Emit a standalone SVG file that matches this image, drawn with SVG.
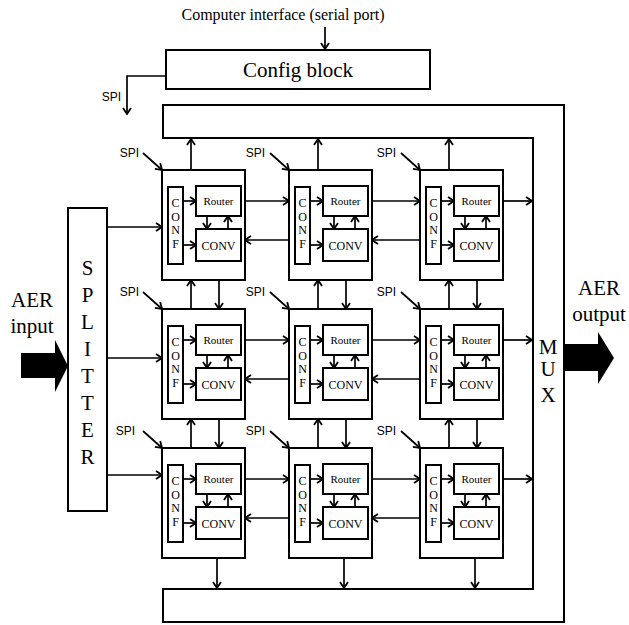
<svg xmlns="http://www.w3.org/2000/svg" width="629" height="625" viewBox="0 0 629 625">
<style>
.box{fill:#fff;stroke:#000;stroke-width:2}
.ln{fill:none;stroke:#000;stroke-width:1.7}
.serif{font-family:"Liberation Serif","Times New Roman",serif;fill:#000}
.sans{font-family:"Liberation Sans",Arial,sans-serif;fill:#000;font-size:12px}
.big{font-size:21px}
.cf{font-size:12px}
.rt{font-size:11px}
.cv{font-size:12px}
</style>
<defs>
<marker id="a" viewBox="0 0 10 10" refX="9" refY="5" markerWidth="10" markerHeight="10" markerUnits="userSpaceOnUse" orient="auto"><path d="M3,1 L9,5 L3,9" fill="none" stroke="#000" stroke-width="1.8"/></marker>
<g id="cell">
<rect class="box" x="0" y="0" width="83" height="110"/>
<rect class="box" x="6" y="17" width="15" height="77"/>
<rect class="box" x="34" y="16" width="45" height="30"/>
<rect class="box" x="34" y="59" width="45" height="32"/>
<line class="ln" x1="21" y1="31" x2="34" y2="31" marker-end="url(#a)"/>
<line class="ln" x1="21" y1="75" x2="34" y2="75" marker-end="url(#a)"/>
<line class="ln" x1="45" y1="46" x2="45" y2="59" marker-end="url(#a)"/>
<line class="ln" x1="66" y1="59" x2="66" y2="46" marker-end="url(#a)"/>
<text class="serif cf" font-family="Liberation Serif, serif" text-anchor="middle" x="13.5"><tspan x="13.5" y="37">C</tspan><tspan x="13.5" y="51">O</tspan><tspan x="13.5" y="64">N</tspan><tspan x="13.5" y="78">F</tspan></text>
<text class="serif rt" font-family="Liberation Serif, serif" text-anchor="middle" x="56.5" y="35">Router</text>
<text class="serif cv" font-family="Liberation Serif, serif" text-anchor="middle" x="56.5" y="79.5">CONV</text>
</g>
</defs>
<rect width="629" height="625" fill="#fff"/>

<g id="computer-interface">
<text class="serif" font-size="16" text-anchor="middle" x="283" y="20">Computer interface (serial port)</text>
</g>
<g id="config-block">
<rect class="box" x="166" y="50" width="264" height="39"/>
<text class="serif big" text-anchor="middle" x="298" y="77">Config block</text>
</g>
<g id="splitter">
<rect class="box" x="68" y="208" width="39" height="303"/>
<text class="serif big" text-anchor="middle"><tspan x="87.5" y="275">S</tspan><tspan x="87.5" y="302">P</tspan><tspan x="87.5" y="329">L</tspan><tspan x="87.5" y="356">I</tspan><tspan x="87.5" y="383">T</tspan><tspan x="87.5" y="410">T</tspan><tspan x="87.5" y="437">E</tspan><tspan x="87.5" y="464">R</tspan></text>
</g>
<g id="mux">
<path class="box" d="M163,105 H564 V622 H163 V589 H533 V138 H163 Z"/>
<text class="serif big" text-anchor="middle"><tspan x="548" y="354">M</tspan><tspan x="548" y="376">U</tspan><tspan x="548" y="402">X</tspan></text>
</g>
<g id="aer-input">
<text class="serif big" text-anchor="middle"><tspan x="32" y="307">AER</tspan><tspan x="32" y="333">input</tspan></text>
<polygon points="21,353 55,353 55,340 68,366 55,392 55,378 21,378" fill="#000"/>
</g>
<g id="aer-output">
<text class="serif big" text-anchor="middle"><tspan x="599" y="295">AER</tspan><tspan x="599" y="321">output</tspan></text>
<polygon points="564,344 598,344 598,332 614,358 598,384 598,371 564,371" fill="#000"/>
</g>

<g id="cell-1-1"><use href="#cell" x="162" y="170"/></g>
<g id="cell-1-2"><use href="#cell" x="289" y="170"/></g>
<g id="cell-1-3"><use href="#cell" x="420" y="170"/></g>
<g id="cell-2-1"><use href="#cell" x="162" y="309"/></g>
<g id="cell-2-2"><use href="#cell" x="289" y="309"/></g>
<g id="cell-2-3"><use href="#cell" x="420" y="309"/></g>
<g id="cell-3-1"><use href="#cell" x="162" y="448"/></g>
<g id="cell-3-2"><use href="#cell" x="289" y="448"/></g>
<g id="cell-3-3"><use href="#cell" x="420" y="448"/></g>

<g id="connectors">
<line class="ln" x1="325" y1="27" x2="325" y2="49" marker-end="url(#a)"/>
<polyline class="ln" points="166,76 127,76 127,114" marker-end="url(#a)"/>
<text class="sans" text-anchor="end" x="121" y="101">SPI</text>

<line class="ln" x1="107" y1="227" x2="162" y2="227" marker-end="url(#a)"/>
<line class="ln" x1="107" y1="358" x2="162" y2="358" marker-end="url(#a)"/>
<line class="ln" x1="107" y1="475" x2="162" y2="475" marker-end="url(#a)"/>

<line class="ln" x1="245" y1="201" x2="289" y2="201" marker-end="url(#a)"/>
<line class="ln" x1="372" y1="201" x2="420" y2="201" marker-end="url(#a)"/>
<line class="ln" x1="503" y1="201" x2="532" y2="201" marker-end="url(#a)"/>
<line class="ln" x1="289" y1="240" x2="245" y2="240" marker-end="url(#a)"/>
<line class="ln" x1="420" y1="240" x2="372" y2="240" marker-end="url(#a)"/>
<line class="ln" x1="245" y1="340" x2="289" y2="340" marker-end="url(#a)"/>
<line class="ln" x1="372" y1="340" x2="420" y2="340" marker-end="url(#a)"/>
<line class="ln" x1="503" y1="340" x2="532" y2="340" marker-end="url(#a)"/>
<line class="ln" x1="289" y1="379" x2="245" y2="379" marker-end="url(#a)"/>
<line class="ln" x1="420" y1="379" x2="372" y2="379" marker-end="url(#a)"/>
<line class="ln" x1="245" y1="479" x2="289" y2="479" marker-end="url(#a)"/>
<line class="ln" x1="372" y1="479" x2="420" y2="479" marker-end="url(#a)"/>
<line class="ln" x1="503" y1="479" x2="532" y2="479" marker-end="url(#a)"/>
<line class="ln" x1="289" y1="518" x2="245" y2="518" marker-end="url(#a)"/>
<line class="ln" x1="420" y1="518" x2="372" y2="518" marker-end="url(#a)"/>

<line class="ln" x1="191" y1="170" x2="191" y2="139" marker-end="url(#a)"/>
<line class="ln" x1="318" y1="170" x2="318" y2="139" marker-end="url(#a)"/>
<line class="ln" x1="449" y1="170" x2="449" y2="139" marker-end="url(#a)"/>
<line class="ln" x1="191" y1="309" x2="191" y2="280" marker-end="url(#a)"/>
<line class="ln" x1="318" y1="309" x2="318" y2="280" marker-end="url(#a)"/>
<line class="ln" x1="449" y1="309" x2="449" y2="280" marker-end="url(#a)"/>
<line class="ln" x1="191" y1="448" x2="191" y2="419" marker-end="url(#a)"/>
<line class="ln" x1="318" y1="448" x2="318" y2="419" marker-end="url(#a)"/>
<line class="ln" x1="449" y1="448" x2="449" y2="419" marker-end="url(#a)"/>
<line class="ln" x1="219" y1="280" x2="219" y2="309" marker-end="url(#a)"/>
<line class="ln" x1="346" y1="280" x2="346" y2="309" marker-end="url(#a)"/>
<line class="ln" x1="477" y1="280" x2="477" y2="309" marker-end="url(#a)"/>
<line class="ln" x1="219" y1="419" x2="219" y2="448" marker-end="url(#a)"/>
<line class="ln" x1="346" y1="419" x2="346" y2="448" marker-end="url(#a)"/>
<line class="ln" x1="477" y1="419" x2="477" y2="448" marker-end="url(#a)"/>
<line class="ln" x1="217" y1="558" x2="217" y2="588" marker-end="url(#a)"/>
<line class="ln" x1="344" y1="558" x2="344" y2="588" marker-end="url(#a)"/>
<line class="ln" x1="475" y1="558" x2="475" y2="588" marker-end="url(#a)"/>

<text class="sans" text-anchor="end" x="139" y="157">SPI</text>
<line class="ln" x1="143" y1="153" x2="162" y2="170" marker-end="url(#a)"/>
<text class="sans" text-anchor="end" x="265" y="157">SPI</text>
<line class="ln" x1="270" y1="153" x2="289" y2="170" marker-end="url(#a)"/>
<text class="sans" text-anchor="end" x="396" y="157">SPI</text>
<line class="ln" x1="401" y1="153" x2="420" y2="170" marker-end="url(#a)"/>
<text class="sans" text-anchor="end" x="139" y="296">SPI</text>
<line class="ln" x1="143" y1="292" x2="162" y2="309" marker-end="url(#a)"/>
<text class="sans" text-anchor="end" x="265" y="296">SPI</text>
<line class="ln" x1="270" y1="292" x2="289" y2="309" marker-end="url(#a)"/>
<text class="sans" text-anchor="end" x="396" y="296">SPI</text>
<line class="ln" x1="401" y1="292" x2="420" y2="309" marker-end="url(#a)"/>
<text class="sans" text-anchor="end" x="135" y="435">SPI</text>
<line class="ln" x1="143" y1="431" x2="162" y2="448" marker-end="url(#a)"/>
<text class="sans" text-anchor="end" x="265" y="435">SPI</text>
<line class="ln" x1="270" y1="431" x2="289" y2="448" marker-end="url(#a)"/>
<text class="sans" text-anchor="end" x="396" y="435">SPI</text>
<line class="ln" x1="401" y1="431" x2="420" y2="448" marker-end="url(#a)"/>
</g>
</svg>
